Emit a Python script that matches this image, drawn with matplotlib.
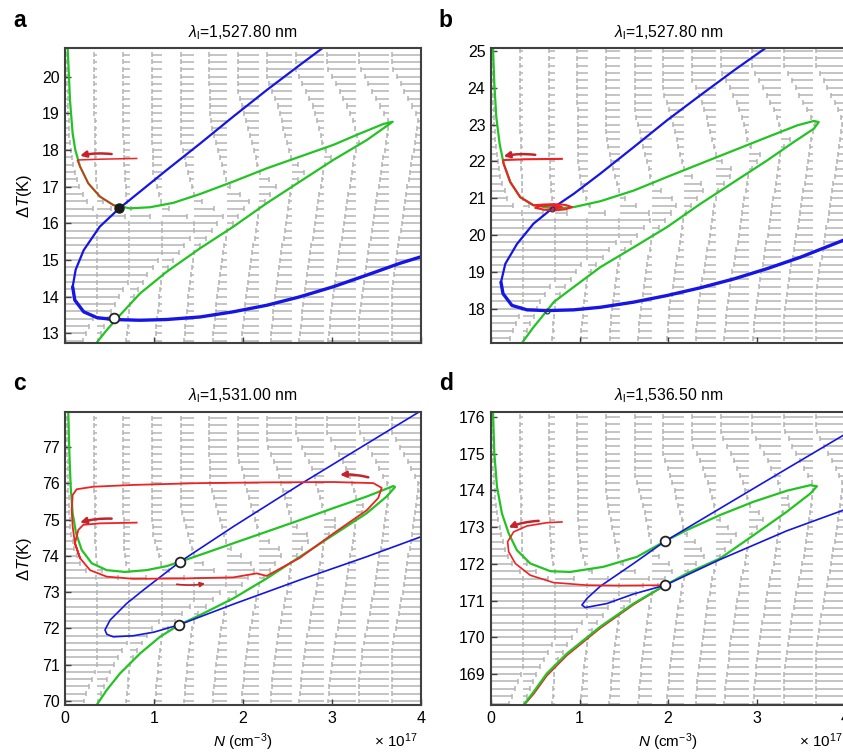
import numpy as np
import matplotlib
matplotlib.use('Agg')
import matplotlib.pyplot as plt
from matplotlib.collections import LineCollection

plt.rcParams['font.family'] = ['Liberation Sans', 'DejaVu Sans']
plt.rcParams['mathtext.fontset'] = 'custom'
plt.rcParams['mathtext.rm'] = 'Liberation Sans'
plt.rcParams['mathtext.it'] = 'Liberation Sans:italic'
plt.rcParams['mathtext.bf'] = 'Liberation Sans:bold'

# curves as (N [1e17 cm^-3], dT [K])
# ---- panel a
GREEN_A = np.array([(0.03, 20.79), (0.056, 19.36), (0.086, 18.45), (0.116, 18.0), (0.169, 17.55),
                    (0.262, 17.09), (0.393, 16.73), (0.543, 16.50), (0.73, 16.41), (0.955, 16.44),
                    (1.217, 16.56), (1.517, 16.80), (1.891, 17.14), (2.266, 17.50), (2.64, 17.82),
                    (3.015, 18.14), (3.315, 18.45), (3.577, 18.71), (3.682, 18.77), (3.577, 18.59),
                    (3.39, 18.27), (3.015, 17.73), (2.64, 17.14), (2.266, 16.55), (1.891, 15.91),
                    (1.517, 15.32), (1.142, 14.68), (0.843, 14.09), (0.618, 13.50), (0.468, 13.09),
                    (0.356, 12.75)])
BLUE_A_UP = np.array([(2.90, 20.79), (2.64, 20.32), (2.27, 19.64), (1.89, 18.91), (1.52, 18.18),
                      (1.14, 17.45), (0.84, 16.86), (0.61, 16.41), (0.39, 15.91), (0.21, 15.27),
                      (0.12, 14.74), (0.086, 14.27)])
BLUE_A_LOW = np.array([(0.086, 14.27), (0.11, 13.91), (0.21, 13.59), (0.36, 13.43), (0.55, 13.38),
                       (0.84, 13.36), (1.14, 13.38), (1.52, 13.45), (1.89, 13.59), (2.27, 13.77),
                       (2.64, 14.0), (3.01, 14.27), (3.39, 14.59), (3.76, 14.91), (4.0, 15.09)])
RED_A = np.array([(0.805, 17.77), (0.40, 17.75), (0.16, 17.73), (0.139, 17.72), (0.169, 17.55),
                  (0.262, 17.09), (0.393, 16.73), (0.543, 16.50), (0.61, 16.43)])
ARROWS_A = [((0.524, 17.89), (0.169, 17.845))]
STABLE_A = [(0.61, 16.41)]
SADDLE_A = [(0.55, 13.41)]

# ---- panel b
GREEN_B = np.array([(0.023, 25.08), (0.038, 24.11), (0.06, 23.21), (0.098, 22.48), (0.143, 21.94),
                    (0.218, 21.44), (0.33, 21.03), (0.48, 20.81), (0.708, 20.72), (0.934, 20.76),
                    (1.235, 20.92), (1.612, 21.21), (1.989, 21.58), (2.365, 21.94), (2.742, 22.30),
                    (3.119, 22.66), (3.458, 22.98), (3.646, 23.10), (3.70, 23.07), (3.646, 22.89),
                    (3.42, 22.53), (3.119, 22.03), (2.742, 21.44), (2.365, 20.85), (1.989, 20.22),
                    (1.612, 19.67), (1.235, 19.13), (0.934, 18.59), (0.708, 18.18), (0.633, 17.95),
                    (0.48, 17.50), (0.35, 17.07)])
BLUE_B_UP = np.array([(3.10, 25.08), (2.742, 24.47), (2.365, 23.80), (1.989, 23.12), (1.612, 22.39),
                      (1.235, 21.67), (0.934, 21.12), (0.689, 20.72), (0.48, 20.31), (0.294, 19.76),
                      (0.162, 19.22), (0.113, 18.72)])
BLUE_B_LOW = np.array([(0.113, 18.72), (0.136, 18.41), (0.237, 18.09), (0.407, 17.97), (0.633, 17.95),
                       (0.934, 17.97), (1.235, 18.04), (1.612, 18.18), (1.989, 18.36), (2.365, 18.57),
                       (2.742, 18.81), (3.119, 19.09), (3.495, 19.40), (4.0, 19.88)])
RED_B = np.array([(0.80, 22.07), (0.40, 22.06), (0.16, 22.04), (0.136, 22.03), (0.143, 21.94),
                  (0.218, 21.44), (0.33, 21.03), (0.48, 20.81), (0.595, 20.83), (0.708, 20.84),
                  (0.840, 20.82), (0.915, 20.76), (0.840, 20.70), (0.708, 20.67), (0.60, 20.69),
                  (0.50, 20.74), (0.55, 20.79), (0.70, 20.80), (0.80, 20.76), (0.70, 20.72)])
ARROWS_B = [((0.50, 22.18), (0.143, 22.14))]
SMALL_B = [(0.69, 20.72), (0.63, 17.95)]

# ---- panel c
GREEN_C = np.array([(0.037, 77.96), (0.049, 76.83), (0.064, 75.91), (0.086, 75.18), (0.124, 74.63),
                    (0.187, 74.17), (0.30, 73.80), (0.468, 73.61), (0.674, 73.56), (0.918, 73.61),
                    (1.142, 73.72), (1.292, 73.84), (1.517, 74.03), (1.891, 74.35), (2.266, 74.67),
                    (2.64, 74.99), (3.015, 75.32), (3.39, 75.64), (3.577, 75.82), (3.689, 75.93),
                    (3.708, 75.90), (3.614, 75.64), (3.39, 75.18), (3.015, 74.58), (2.64, 73.98),
                    (2.266, 73.38), (1.891, 72.83), (1.517, 72.37), (1.281, 72.10), (1.067, 71.77),
                    (0.843, 71.31), (0.618, 70.76), (0.468, 70.30), (0.356, 69.89)])
BLUE_C = np.array([(3.97, 77.96), (2.678, 76.03), (1.891, 74.81), (1.292, 73.84), (0.88, 73.06),
                   (0.693, 72.69), (0.506, 72.23), (0.449, 71.96), (0.47, 71.84), (0.543, 71.77),
                   (0.768, 71.80), (1.0, 71.90), (1.281, 72.10), (1.891, 72.67), (2.64, 73.34),
                   (3.39, 73.98), (4.0, 74.53)])
RED_C = np.array([(0.805, 74.92), (0.393, 74.90), (0.206, 74.86), (0.15, 74.72), (0.112, 74.35),
                  (0.169, 73.94), (0.281, 73.61), (0.468, 73.43), (0.768, 73.37), (1.33, 73.38),
                  (1.891, 73.41), (2.154, 73.52), (2.266, 73.45), (2.64, 73.95), (3.015, 74.62),
                  (3.39, 75.26), (3.52, 75.60), (3.558, 75.88), (3.464, 76.01), (3.015, 76.04),
                  (2.266, 76.03), (1.517, 76.01), (0.768, 75.96), (0.318, 75.91), (0.131, 75.84),
                  (0.086, 75.68), (0.075, 75.27), (0.086, 74.81), (0.112, 74.35), (0.169, 73.94)])
ARROWS_C = [((0.524, 75.03), (0.169, 74.92)), ((3.408, 76.17), (3.09, 76.24))]
ARROWS_C_THIN = [((1.255, 73.22), (1.573, 73.24))]
SADDLE_C = [(1.29, 73.84), (1.28, 72.10)]

# ---- panel d
GREEN_D = np.array([(0.023, 176.14), (0.038, 175.0), (0.068, 174.10), (0.124, 173.37), (0.20, 172.83),
                    (0.293, 172.37), (0.444, 172.01), (0.67, 171.80), (0.895, 171.78), (1.27, 171.92),
                    (1.648, 172.19), (1.968, 172.62), (2.212, 172.92), (2.588, 173.33), (2.965, 173.69),
                    (3.341, 173.99), (3.604, 174.14), (3.68, 174.11), (3.604, 173.91), (3.341, 173.42),
                    (2.965, 172.78), (2.588, 172.15), (2.212, 171.74), (1.968, 171.42), (1.61, 170.92),
                    (1.234, 170.29), (0.858, 169.56), (0.632, 169.02), (0.482, 168.52), (0.369, 168.16)])
BLUE_D = np.array([(4.0, 175.53), (3.341, 174.59), (2.588, 173.51), (1.968, 172.62), (1.61, 172.01),
                   (1.234, 171.39), (1.084, 171.06), (1.027, 170.88), (1.065, 170.81), (1.309, 170.92),
                   (1.61, 171.18), (1.968, 171.42), (2.588, 172.12), (3.341, 172.90), (4.0, 173.48)])
RED_D1 = np.array([(0.801, 173.14), (0.632, 173.12), (0.406, 173.03), (0.256, 172.87), (0.188, 172.60),
                   (0.20, 172.33), (0.275, 172.01), (0.444, 171.69), (0.707, 171.49), (1.084, 171.42),
                   (1.46, 171.41), (1.968, 171.42)])
RED_D2 = np.array([(1.968, 171.42), (1.61, 170.89), (1.234, 170.25), (0.858, 169.51), (0.632, 168.96),
                   (0.482, 168.46), (0.375, 168.16)])
ARROWS_D = [((0.538, 173.17), (0.199, 172.99))]
SADDLE_D = [(1.97, 172.62), (1.96, 171.42)]

GREEN = '#22c322'
BLUE = '#1515e6'
RED = '#ee2222'
DARKRED = '#c4232b'
GRAY = '#b4b4b4'


def zeros_at(curve, t):
    zs = []
    for (n0, t0), (n1, t1) in zip(curve[:-1], curve[1:]):
        if t0 != t1 and (t0 - t) * (t1 - t) <= 0:
            zs.append(n0 + (t - t0) * (n1 - n0) / (t1 - t0))
    return zs


def dist_to_curve(n, t, curve, s=2.0):
    p = np.array([n, t * s])
    a = curve[:-1] * [1, s]
    b = curve[1:] * [1, s]
    ab = b - a
    w = np.clip(((p - a) * ab).sum(1) / np.maximum((ab ** 2).sum(1), 1e-12), 0, 1)
    proj = a + ab * w[:, None]
    return np.sqrt(((proj - p) ** 2).sum(1)).min()


def draw_field(ax, green, ylim):
    # flow dN/dt is nearly horizontal; sign flips across the green nullcline
    cols = np.linspace(0, 4, 12)
    rows = np.arange(np.ceil(ylim[0] / 0.2) * 0.2, ylim[1], 0.2)
    hb = 0.0085 * (ylim[1] - ylim[0])
    segs = []
    for t in rows:
        zs = zeros_at(green, t)
        for n in cols:
            d = dist_to_curve(n, t, green)
            if sum(z > n for z in zs) % 2:
                u = min(0.36, 0.55 * d)
            else:
                u = -min(0.33, 0.11 * d)
            segs.append([(n, t), (n + u, t)])
            segs.append([(n + u, t - hb), (n + u, t + hb)])
    ax.add_collection(LineCollection(segs, colors=GRAY, linewidths=1.1, zorder=1))


def red_arrow(ax, tail, head, lw=1.8, ms=9):
    ax.annotate('', xy=head, xytext=tail,
                arrowprops=dict(arrowstyle='-|>', color=DARKRED, lw=lw, mutation_scale=ms,
                                shrinkA=0, shrinkB=0, connectionstyle='arc3,rad=0.08'),
                zorder=6)


fig = plt.figure(figsize=(8.43, 7.54), dpi=100)

panels = [
    ('a', [0.0771, 0.5451, 0.4223, 0.3912], (12.74, 20.78), range(13, 21), r'1,527.80', GREEN_A),
    ('b', [0.5824, 0.5451, 0.4203, 0.3912], (17.07, 25.08), range(18, 26), r'1,527.80', GREEN_B),
    ('c', [0.0771, 0.0650, 0.4223, 0.3890], (69.89, 77.98), range(70, 78), r'1,531.00', GREEN_C),
    ('d', [0.5824, 0.0650, 0.4203, 0.3890], (168.16, 176.14), range(169, 177), r'1,536.50', GREEN_D),
]

axes = {}
for letter, pos, ylim, yticks, lam, green in panels:
    ax = fig.add_axes(pos)
    axes[letter] = ax
    draw_field(ax, green, ylim)
    ax.plot(green[:, 0], green[:, 1], color=GREEN, lw=1.6, zorder=3)
    ax.set_xlim(0, 4)
    ax.set_ylim(*ylim)
    ax.set_yticks(list(yticks))
    ax.set_xticks([0, 1, 2, 3, 4])
    ax.tick_params(direction='in', length=4, width=1, labelsize=11.5, color='#404040', pad=4)
    for sp in ax.spines.values():
        sp.set_color('#404040')
        sp.set_linewidth(1.5)
        sp.set_zorder(10)
    ax.set_title(r'$\lambda_{\mathrm{l}}$=' + lam + ' nm', fontsize=11.3, pad=8)
    fig.text(pos[0] - 52 / 843, pos[1] + pos[3] + 28 / 754, letter, fontsize=16.5,
             fontweight='bold', ha='left', va='center')
    if letter in 'ab':
        ax.tick_params(labelbottom=False)
    else:
        ax.set_xlabel(r'$N$ (cm$^{-3}$)', fontsize=11)
        ax.xaxis.set_label_coords(0.5, -0.09)
        ax.text(0.868, -0.122, r'$\times$ 10$^{17}$', transform=ax.transAxes, fontsize=11,
                ha='left', va='center')
    if letter in 'ac':
        ax.set_ylabel(r'$\Delta T$(K)', fontsize=12)
        ax.yaxis.set_label_coords(-0.088, 0.5)

# panel a
ax = axes['a']
ax.plot(BLUE_A_UP[:, 0], BLUE_A_UP[:, 1], color=BLUE, lw=1.6, zorder=4)
ax.plot(BLUE_A_LOW[:, 0], BLUE_A_LOW[:, 1], color=BLUE, lw=2.4, zorder=4, solid_capstyle='round')
ax.plot(RED_A[:, 0], RED_A[:, 1], color=RED, lw=1.1, zorder=5)
for tail, head in ARROWS_A:
    red_arrow(ax, tail, head)
ax.plot(*zip(*STABLE_A), 'o', ms=6.5, mfc='#1a1a1a', mec='#1a1a1a', zorder=7)
ax.plot(*zip(*SADDLE_A), 'o', ms=7, mfc='white', mec='#222222', mew=1.3, zorder=7)

# panel b
ax = axes['b']
ax.plot(BLUE_B_UP[:, 0], BLUE_B_UP[:, 1], color=BLUE, lw=1.6, zorder=4)
ax.plot(BLUE_B_LOW[:, 0], BLUE_B_LOW[:, 1], color=BLUE, lw=2.4, zorder=4, solid_capstyle='round')
ax.plot(RED_B[:, 0], RED_B[:, 1], color=RED, lw=1.5, zorder=5)
for tail, head in ARROWS_B:
    red_arrow(ax, tail, head)
ax.plot(*zip(*SMALL_B), 'o', ms=3.5, mfc='none', mec='#333366', mew=0.9, zorder=7)

# panel c
ax = axes['c']
ax.plot(BLUE_C[:, 0], BLUE_C[:, 1], color=BLUE, lw=1.2, zorder=4)
ax.plot(RED_C[:, 0], RED_C[:, 1], color=RED, lw=1.3, zorder=5)
for tail, head in ARROWS_C:
    red_arrow(ax, tail, head)
for tail, head in ARROWS_C_THIN:
    red_arrow(ax, tail, head, lw=1.2, ms=7)
ax.plot(*zip(*SADDLE_C), 'o', ms=7, mfc='white', mec='#222222', mew=1.3, zorder=7)

# panel d
ax = axes['d']
ax.plot(BLUE_D[:, 0], BLUE_D[:, 1], color=BLUE, lw=1.2, zorder=4)
ax.plot(RED_D1[:, 0], RED_D1[:, 1], color=RED, lw=1.2, zorder=5)
ax.plot(RED_D2[:, 0], RED_D2[:, 1], color=RED, lw=1.2, zorder=2.9)
for tail, head in ARROWS_D:
    red_arrow(ax, tail, head)
ax.plot(*zip(*SADDLE_D), 'o', ms=7, mfc='white', mec='#222222', mew=1.3, zorder=7)

fig.savefig('out.png', dpi=100)
